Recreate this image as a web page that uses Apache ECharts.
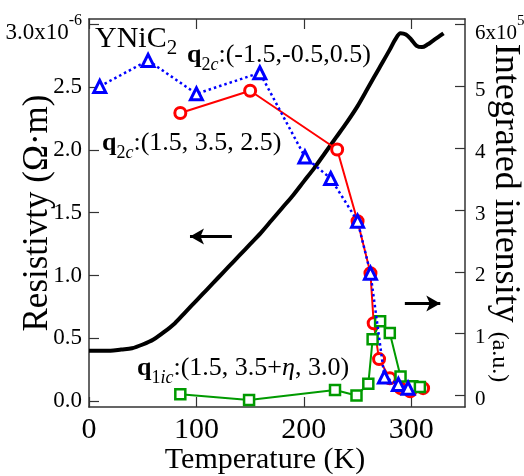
<!DOCTYPE html>
<html>
<head>
<meta charset="utf-8">
<script src="https://cdn.jsdelivr.net/npm/echarts@6/dist/echarts.min.js"></script>
<style>
  html, body { margin: 0; padding: 0; background: #fff; }
  #chart { width: 524px; height: 476px; }
</style>
</head>
<body>
<div id="chart"></div>
<script>
const FONT = '"Liberation Serif", "Times New Roman", serif';

// Resistivity of YNiC2 (units of 1e-6 Ω·m) versus temperature (K)
const tempRho = [0, 10, 20, 30, 40, 50, 60, 70, 80, 90, 100, 110, 120, 130, 140, 150, 160, 170, 180, 190,
  200, 210, 220, 230, 240, 250, 260, 270, 280, 285, 290, 295, 300, 305, 310, 315, 320, 325, 330];
const rho = [0.40, 0.40, 0.40, 0.41, 0.42, 0.45, 0.49, 0.55, 0.62, 0.71, 0.80, 0.89, 0.98, 1.07, 1.16, 1.25, 1.34, 1.44, 1.54, 1.64,
  1.75, 1.86, 1.98, 2.10, 2.22, 2.35, 2.50, 2.65, 2.80, 2.88, 2.93, 2.92, 2.88, 2.83, 2.82, 2.84, 2.87, 2.90, 2.93];

// Integrated intensity (units of 1e5 a.u.)
// q2c : (-1.5, -0.5, 0.5)
const tempQ2cA = [10, 55, 100, 159, 201, 225, 250, 262, 275, 288, 297];
const intQ2cA  = [5.00, 5.42, 4.88, 5.22, 3.86, 3.51, 2.82, 1.98, 0.30, 0.18, 0.12];
// q2c : (1.5, 3.5, 2.5)
const tempQ2cB = [85, 150, 231, 250, 262, 265, 270, 280, 290, 299, 311];
const intQ2cB  = [4.57, 4.93, 3.98, 2.82, 1.98, 1.17, 0.59, 0.28, 0.12, 0.07, 0.12];
// q1ic : (1.5, 3.5+η, 3.0)
const tempQ1ic = [85, 149, 229, 249, 260, 264, 271, 280, 290, 301, 308];
const intQ1ic  = [0.02, -0.07, 0.09, 0.00, 0.19, 0.91, 1.20, 1.01, 0.31, 0.15, 0.14];

// Tick values
const tempTicks = [0, 100, 200, 300];
const rhoTicks = [0, 0.5, 1.0, 1.5, 2.0, 2.5, 3.0];
const intTicks = [0, 1, 2, 3, 4, 5, 6];

const zip = (xs, ys) => xs.map((x, i) => [x, ys[i]]);

const AXIS_COLOR = '#333';

const chart = echarts.init(document.getElementById('chart'), null, { renderer: 'canvas' });

const subLabelRich = {
  q: { fontFamily: FONT, fontSize: 26, fontWeight: 'bold', lineHeight: 30, verticalAlign: 'top', color: '#000' },
  s: { fontFamily: FONT, fontSize: 18, lineHeight: 18, padding: [14, 0, 0, 0], verticalAlign: 'top', color: '#000' },
  si: { fontFamily: FONT, fontSize: 18, fontStyle: 'italic', lineHeight: 18, padding: [14, 0, 0, 0], verticalAlign: 'top', color: '#000' },
  t: { fontFamily: FONT, fontSize: 26, lineHeight: 30, verticalAlign: 'top', color: '#000' },
  ti: { fontFamily: FONT, fontSize: 26, fontStyle: 'italic', lineHeight: 30, verticalAlign: 'top', color: '#000' }
};

const option = {
  animation: false,
  backgroundColor: '#fff',
  textStyle: { fontFamily: FONT },
  grid: { left: 89, right: 59, top: 19, bottom: 69, containLabel: false, outerBoundsMode: 'none' },
  xAxis: [
    {
      type: 'value', min: 0, max: 350, interval: 100,
      position: 'bottom',
      name: 'Temperature (K)', nameLocation: 'middle', nameGap: 38, nameMoveOverlap: false,
      nameTextStyle: { fontFamily: FONT, fontSize: 30, color: '#000', padding: [0, 24, 0, 0] },
      axisLine: { show: true, onZero: false, lineStyle: { color: AXIS_COLOR, width: 1.5 } },
      axisTick: { show: true, inside: true, length: 10, lineStyle: { color: AXIS_COLOR, width: 1.2 }, customValues: tempTicks },
      axisLabel: { fontFamily: FONT, fontSize: 30, color: '#000', margin: 8, customValues: tempTicks },
      splitLine: { show: false }
    },
    {
      type: 'value', min: 0, max: 350, interval: 100,
      position: 'top',
      axisLine: { show: true, onZero: false, lineStyle: { color: AXIS_COLOR, width: 1.5 } },
      axisTick: { show: true, inside: true, length: 10, lineStyle: { color: AXIS_COLOR, width: 1.2 }, customValues: tempTicks },
      axisLabel: { show: false },
      splitLine: { show: false }
    }
  ],
  yAxis: [
    {
      type: 'value', min: -0.048, max: 3.044, position: 'left',
      name: 'Resistivty (Ω·m)', nameLocation: 'middle', nameGap: 34, nameRotate: 90, nameMoveOverlap: false,
      nameTextStyle: { fontFamily: FONT, fontSize: 35, color: '#000' },
      axisLine: { show: true, onZero: false, lineStyle: { color: AXIS_COLOR, width: 1.5 } },
      axisTick: { show: true, inside: true, length: 10, lineStyle: { color: AXIS_COLOR, width: 1.2 }, customValues: rhoTicks },
      axisLabel: {
        customValues: rhoTicks, margin: 7, color: '#000', fontFamily: FONT, fontSize: 23,
        formatter: v => (v === 3 ? '{m|3.0x10}{e|-6}' : '{n|' + v.toFixed(1) + '}'),
        rich: {
          n: { fontFamily: FONT, fontSize: 23, color: '#000' },
          m: { fontFamily: FONT, fontSize: 23, lineHeight: 24, padding: [9, 0, 0, 0], verticalAlign: 'top', color: '#000' },
          e: { fontFamily: FONT, fontSize: 16, lineHeight: 16, verticalAlign: 'top', color: '#000' }
        }
      },
      splitLine: { show: false }
    },
    {
      type: 'value', min: -0.185, max: 6.09, position: 'right',
      name: '{a|Integrated intensity} {b|(a.u.)}', nameLocation: 'middle', nameGap: 22, nameRotate: -90, nameMoveOverlap: false,
      nameTextStyle: {
        fontFamily: FONT, fontSize: 36, color: '#000',
        rich: {
          a: { fontFamily: FONT, fontSize: 36, lineHeight: 36, verticalAlign: 'bottom', color: '#000' },
          b: { fontFamily: FONT, fontSize: 24, lineHeight: 27, verticalAlign: 'bottom', color: '#000' }
        }
      },
      axisLine: { show: true, onZero: false, lineStyle: { color: AXIS_COLOR, width: 1.5 } },
      axisTick: { show: true, inside: true, length: 10, lineStyle: { color: AXIS_COLOR, width: 1.2 }, customValues: intTicks },
      axisLabel: {
        customValues: intTicks, margin: 10, color: '#000', fontFamily: FONT, fontSize: 21,
        formatter: v => (v === 6 ? '{m|6x10}{e|5}' : '{n|' + v + '}'),
        rich: {
          n: { fontFamily: FONT, fontSize: 21, padding: [8, 0, 0, 0], color: '#000' },
          m: { fontFamily: FONT, fontSize: 21, lineHeight: 22, padding: [9, 0, 0, 0], verticalAlign: 'top', color: '#000' },
          e: { fontFamily: FONT, fontSize: 15, lineHeight: 15, verticalAlign: 'top', color: '#000' }
        }
      },
      splitLine: { show: false }
    }
  ],
  series: [
    {
      name: 'resistivity', type: 'line', xAxisIndex: 0, yAxisIndex: 0,
      data: zip(tempRho, rho), smooth: 0.3, showSymbol: false, z: 2,
      lineStyle: { color: '#000', width: 4 },
      emphasis: { disabled: true },
      markLine: {
        silent: true, animation: false,
        symbol: ['none', 'arrow'], symbolSize: [12, 14],
        label: { show: false },
        lineStyle: { color: '#000', width: 3, type: 'solid' },
        data: [[{ coord: [133, 1.31] }, { coord: [94, 1.31] }]]
      }
    },
    {
      name: 'q2c A', type: 'line', xAxisIndex: 0, yAxisIndex: 1,
      data: zip(tempQ2cA, intQ2cA), z: 4,
      symbol: 'triangle', symbolSize: 12, showAllSymbol: true,
      itemStyle: { color: '#fff', borderColor: '#0000ff', borderWidth: 3 },
      lineStyle: { color: '#0000ff', width: 2.5, type: [2.5, 3] },
      emphasis: { disabled: true }
    },
    {
      name: 'q2c B', type: 'line', xAxisIndex: 0, yAxisIndex: 1,
      data: zip(tempQ2cB, intQ2cB), z: 3,
      symbol: 'circle', symbolSize: 11, showAllSymbol: true,
      itemStyle: { color: '#fff', borderColor: '#ff0000', borderWidth: 3 },
      lineStyle: { color: '#ff0000', width: 2 },
      emphasis: { disabled: true }
    },
    {
      name: 'q1ic', type: 'line', xAxisIndex: 0, yAxisIndex: 1,
      data: zip(tempQ1ic, intQ1ic), z: 3,
      symbol: 'rect', symbolSize: 10, showAllSymbol: true,
      itemStyle: { color: '#fff', borderColor: '#009a00', borderWidth: 2.5 },
      lineStyle: { color: '#009a00', width: 2 },
      emphasis: { disabled: true },
      markLine: {
        silent: true, animation: false,
        symbol: ['none', 'arrow'], symbolSize: [12, 14],
        label: { show: false },
        lineStyle: { color: '#000', width: 3, type: 'solid' },
        data: [[{ coord: [294, 1.49] }, { coord: [327, 1.49] }]]
      }
    }
  ],
  graphic: [
    {
      type: 'text', left: 95, top: 24,
      style: {
        text: '{a|YNiC}{b|2}',
        rich: {
          a: { fontFamily: FONT, fontSize: 30, lineHeight: 30, verticalAlign: 'top', color: '#000' },
          b: { fontFamily: FONT, fontSize: 21, lineHeight: 21, padding: [14, 0, 0, 0], verticalAlign: 'top', color: '#000' }
        }
      }
    },
    {
      type: 'text', left: 187, top: 42,
      style: { text: '{q|q}{s|2}{si|c}{t|:(-1.5,-0.5,0.5)}', rich: subLabelRich }
    },
    {
      type: 'text', left: 102, top: 130,
      style: { text: '{q|q}{s|2}{si|c}{t|:(1.5, 3.5, 2.5)}', rich: subLabelRich }
    },
    {
      type: 'text', left: 137, top: 355,
      style: { text: '{q|q}{s|1}{si|ic}{t|:(1.5, 3.5+}{ti|η}{t|, 3.0)}', rich: subLabelRich }
    }
  ]
};

chart.setOption(option);
</script>
</body>
</html>
